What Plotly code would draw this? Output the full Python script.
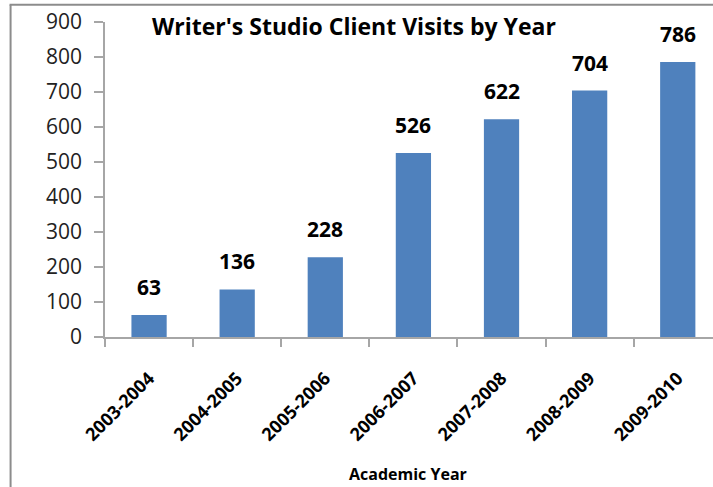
import plotly.graph_objects as go

years = ["2003-2004", "2004-2005", "2005-2006", "2006-2007", "2007-2008", "2008-2009", "2009-2010"]
visits = [63, 136, 228, 526, 622, 704, 786]
y_ticks = [0, 100, 200, 300, 400, 500, 600, 700, 800, 900]

W, H = 713, 487
L, R, T, B = 104.5, 0, 21.7, 150.3
pw = W - L - R
ph = H - T - B
FONT = "Open Sans"

def px_x(x):
    return (x - L) / pw

def px_y(y):
    return (H - B - y) / ph

fig = go.Figure()
fig.add_trace(go.Bar(
    x=years, y=visits,
    marker=dict(color="#4F81BD", line=dict(width=0)),
    width=0.4,
    hoverinfo="x+y",
))

for yr, v in zip(years, visits):
    fig.add_annotation(x=yr, y=v, text="<b>%d</b>" % v, showarrow=False,
                       yanchor="bottom", yshift=12,
                       font=dict(family=FONT, size=21, color="#000000"))

fig.add_annotation(xref="paper", yref="paper", x=px_x(354), y=px_y(26),
                   text="<b>Writer's Studio Client Visits by Year</b>",
                   showarrow=False, xanchor="center", yanchor="middle",
                   font=dict(family=FONT, size=23, color="#000000"))
fig.add_annotation(xref="paper", yref="paper", x=px_x(408), y=px_y(474),
                   text="<b>Academic Year</b>",
                   showarrow=False, xanchor="center", yanchor="middle",
                   font=dict(family=FONT, size=16, color="#000000"))

# outer chart border (top and left)
fig.add_shape(type="line", xref="paper", yref="paper",
              x0=px_x(9), x1=px_x(713), y0=px_y(4.5), y1=px_y(4.5),
              line=dict(color="#8c8c8c", width=2))
fig.add_shape(type="line", xref="paper", yref="paper",
              x0=px_x(10), x1=px_x(10), y0=px_y(4.5), y1=px_y(487),
              line=dict(color="#8c8c8c", width=2))

fig.update_layout(
    width=W, height=H,
    margin=dict(l=L, r=R, t=T, b=B, autoexpand=False),
    plot_bgcolor="white", paper_bgcolor="white",
    showlegend=False,
    bargap=0.6,
    xaxis=dict(
        type="category", range=[-0.5, 6.4],
        showline=True, linecolor="#a6a6a6", linewidth=1.5,
        ticks="outside", ticklen=8, tickcolor="#a6a6a6", tickwidth=1.5,
        tickson="boundaries",
        tickangle=-45,
        ticklabelstandoff=22,
        tickfont=dict(family=FONT, size=18, color="#000000", weight="bold"),
        showgrid=False, zeroline=False,
    ),
    yaxis=dict(
        range=[0, 900], tickvals=y_ticks,
        showline=True, linecolor="#a6a6a6", linewidth=1.5,
        ticks="outside", ticklen=9, tickcolor="#a6a6a6", tickwidth=1.5,
        ticklabelstandoff=8,
        tickfont=dict(family=FONT, size=21, color="#222222"),
        showgrid=False, zeroline=False,
    ),
)

fig.write_html("out.html")
